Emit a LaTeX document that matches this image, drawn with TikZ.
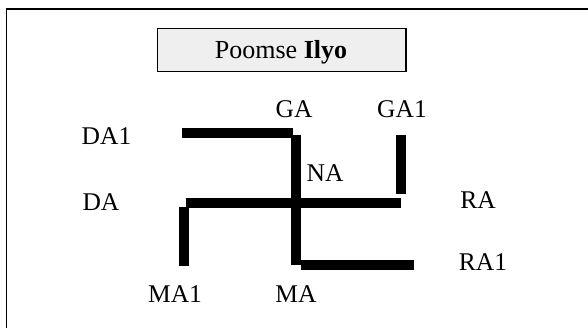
\documentclass[tikz,border=0pt]{standalone}
\usepackage{fontspec}
\setmainfont{Liberation Serif}
\definecolor{boxgray}{RGB}{239,239,239}
\tikzset{
  lbl/.style={inner sep=0pt, font=\fontsize{25.5}{30}\selectfont},
  bar/.style={line width=10pt, line cap=butt},
}
\begin{document}
\begin{tikzpicture}[x=1pt,y=-1pt]
      \useasboundingbox (0,0) rectangle (588,327);
      % frame, open to the right and bottom
      \draw[line width=1.7pt] (6.5,340) -- (6.5,9.2) -- (600,9.2);
      % title box
      \node[draw, line width=1.5pt, fill=boxgray, inner sep=0pt,
            minimum width=248.5pt, minimum height=43.4pt] (title) at (281.7,50) {};
      \node[lbl, anchor=base, font=\fontsize{26}{30}\selectfont] (titletext)
        at (281,58) {Poomse \textbf{Ilyo}};
      \draw
        (294,109) node[lbl] (ga){GA}
        (402,109) node[lbl] (gaone){GA1}
        (106.5,136.5) node[lbl] (daone){DA1}
        (325,173) node[lbl] (na){NA}
        (101,202) node[lbl] (da){DA}
        (478,200.5) node[lbl] (ra){RA}
        (483,262) node[lbl] (raone){RA1}
        (175,294) node[lbl] (maone){MA1}
        (296,294) node[lbl] (ma){MA};
      \begin{scope}[bar]
        \draw (181.7,133.3) -- (293,133.3);
        \draw (295.7,135) -- (295.7,265);
        \draw (300.7,264.5) -- (414,264.5);
        \draw (185.7,202.7) -- (400.7,202.7);
        \draw (183.8,207.3) -- (183.8,265.7);
        \draw (401.3,135) -- (401.3,194);
      \end{scope}
    \end{tikzpicture}
\end{document}
